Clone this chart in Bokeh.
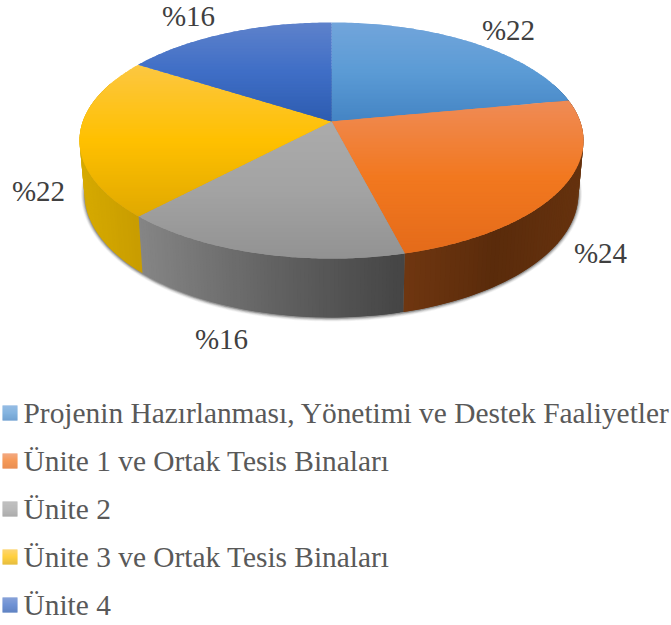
import numpy as np
from bokeh.plotting import figure
from bokeh.models import Range1d
from bokeh.core.properties import value
from bokeh.embed import file_html
from bokeh.resources import INLINE

categories = ["Projenin Hazırlanması, Yönetimi ve Destek Faaliyetler",
              "Ünite 1 ve Ortak Tesis Binaları", "Ünite 2",
              "Ünite 3 ve Ortak Tesis Binaları", "Ünite 4"]
shares = [22, 24, 16, 22, 16]
top_light = ["#72a5db", "#ef8b56", "#ababab", "#fcc742", "#5e82cb"]
top_base = ["#5b9bd5", "#f2781f", "#a3a3a3", "#ffc000", "#3f6ec6"]
top_dark = ["#4484c4", "#e46b1a", "#929292", "#e0a900", "#2d5cb0"]
rim_left = ["#2a5a85", "#6f3610", "#858585", "#d6aa00", "#264478"]
rim_mid = ["#2a5a85", "#5a2b0b", "#626262", "#cfa300", "#264478"]
rim_right = ["#2a5a85", "#66320e", "#444444", "#c89c00", "#264478"]

CX, CY = 331.0, 121.0
A, B, C = 115.0, 0.161, 248.7
DEPTH, KX, KY = 52.0, 0.98, 1.05


def hex2rgb(h):
    return np.array([int(h[i:i + 2], 16) for i in (1, 3, 5)], dtype=float)


def mix(stops, f):
    f = min(max(f, 0.0), 1.0) * (len(stops) - 1)
    i = min(int(f), len(stops) - 2)
    c = hex2rgb(stops[i]) * (1 - (f - i)) + hex2rgb(stops[i + 1]) * (f - i)
    return "#%02x%02x%02x" % tuple(int(round(v)) for v in c)


def top_pt(th):
    s, t = np.sin(th), np.cos(th)
    d = 1 + B * t
    return CX + C * s / d, CY - A * t / d


def bot_pt(th):
    s, t = np.sin(th), np.cos(th)
    d = 1 + B * t
    return CX + KX * C * s / d, CY + DEPTH - KY * A * t / d


def clip_band(poly, y0, y1):
    def clip(pts, keep, cross):
        out = []
        for i in range(len(pts)):
            a, b = pts[i], pts[(i + 1) % len(pts)]
            ka, kb = keep(a), keep(b)
            if ka:
                out.append(a)
            if ka != kb:
                u = (cross - a[1]) / (b[1] - a[1])
                out.append((a[0] + u * (b[0] - a[0]), cross))
        return out
    r = clip(poly, lambda p: p[1] >= y0, y0)
    if r:
        r = clip(r, lambda p: p[1] <= y1, y1)
    return r


p = figure(width=671, height=625, output_backend="svg", toolbar_location=None,
           x_range=Range1d(0, 671), y_range=Range1d(625, 0), min_border=0,
           x_axis_type=None, y_axis_type=None, outline_line_color=None)
p.grid.visible = False

edges = 2 * np.pi * np.cumsum([0] + shares) / sum(shares)

# soft shadow under the bottom rim
ring = np.linspace(0, 2 * np.pi, 361)
bx, by = bot_pt(ring)
for grow, alpha in [(3.6, 0.06), (2.8, 0.09), (2.0, 0.14), (1.2, 0.2), (0.5, 0.28)]:
    sx = CX + (bx - CX) * (1 + grow / 250)
    sy = (CY + DEPTH + 20) + (by - (CY + DEPTH + 20)) * (1 + grow / 130) + 0.6
    p.patch(sx, sy, fill_color="#404040", fill_alpha=alpha, line_color=None)

# side walls
xs, ys, cols = [], [], []
for i in range(len(shares)):
    th = np.linspace(edges[i], edges[i + 1], 80)
    th = th[np.cos(th) < 0.35]
    if len(th) < 3:
        continue
    ex = bot_pt(th)[0]
    lo, hi = ex.min(), ex.max()
    stops = [rim_left[i], rim_mid[i], rim_right[i]]
    for j in range(len(th) - 1):
        a, b = th[j], th[min(j + 2, len(th) - 1)]
        ta, tb, ba, bb = top_pt(a), top_pt(b), bot_pt(a), bot_pt(b)
        xs.append([ta[0], tb[0], bb[0], ba[0]])
        ys.append([ta[1], tb[1], bb[1], ba[1]])
        cols.append(mix(stops, (0.5 * (ba[0] + bb[0]) - lo) / (hi - lo)))
p.patches(xs, ys, fill_color=cols, line_color=None)

# top faces, as thin horizontal bands for the vertical gradient
for i in range(len(shares)):
    th = np.linspace(edges[i], edges[i + 1], 90)
    ax, ay = top_pt(th)
    poly = [(CX, CY)] + list(zip(ax, ay))
    ymin, ymax = min(q[1] for q in poly), max(q[1] for q in poly)
    stops = [top_light[i], top_base[i], top_dark[i]]
    xs, ys, cols = [], [], []
    for y0 in np.arange(ymin, ymax, 1.5):
        r = clip_band(poly, y0, min(y0 + 2.5, ymax))
        if len(r) < 3:
            continue
        xs.append([q[0] for q in r])
        ys.append([q[1] for q in r])
        cols.append(mix(stops, (y0 + 0.75 - ymin) / (ymax - ymin)))
    p.patches(xs, ys, fill_color=cols, line_color=None)

# data labels
label_x = [508, 600, 221, 38, 188]
label_y = [29, 252, 338, 190, 15]
p.text(label_x, label_y, text=[f"%{v}" for v in shares], text_color="#404040",
       text_font=value("Liberation Serif"), text_font_size="29px",
       text_align="center", text_baseline="alphabetic")

# legend
row_y = [413 + 48 * k for k in range(len(categories))]
for k, y in enumerate(row_y):
    stops = [top_light[k], top_base[k], top_dark[k]]
    steps = np.arange(0, 15)
    p.quad(left=2, right=17, top=[y - 8 + s for s in steps], bottom=[y - 7 + s for s in steps],
           fill_color=[mix(stops, s / 14) for s in steps], line_color=None)
p.text([23] * len(categories), [y - 1 for y in row_y], text=categories, text_color="#595959",
       text_font=value("Liberation Serif"), text_font_size="29.4px",
       text_align="left", text_baseline="alphabetic")

open("out.html", "w").write(file_html(p, INLINE))
